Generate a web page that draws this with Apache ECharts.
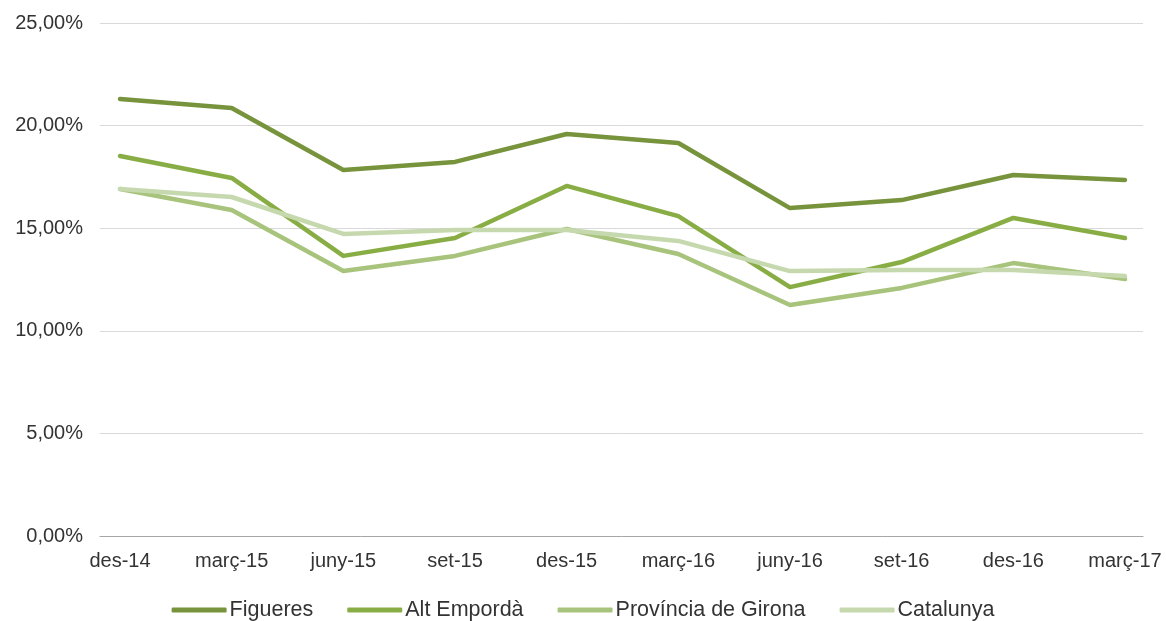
<!DOCTYPE html>
<html>
<head>
<meta charset="utf-8">
<script src="https://cdn.jsdelivr.net/npm/echarts@6/dist/echarts.min.js"></script>
<style>
  html, body { margin: 0; padding: 0; background: #fff; }
  #chart { width: 1166px; height: 621px; }
</style>
</head>
<body>
<div id="chart"></div>
<script>
const categories = ['des-14', 'març-15', 'juny-15', 'set-15', 'des-15', 'març-16', 'juny-16', 'set-16', 'des-16', 'març-17']
const figueres = [21.3, 20.86, 17.84, 18.23, 19.59, 19.15, 15.98, 16.37, 17.59, 17.35]
const altEmporda = [18.52, 17.45, 13.65, 14.52, 17.06, 15.59, 12.13, 13.35, 15.5, 14.52]
const provinciaGirona = [16.91, 15.89, 12.91, 13.65, 14.96, 13.74, 11.26, 12.09, 13.3, 12.52]
const catalunya = [16.91, 16.52, 14.72, 14.91, 14.91, 14.38, 12.91, 12.96, 12.96, 12.67]

const seriesNames = ['Figueres', 'Alt Empordà', 'Província de Girona', 'Catalunya']
const seriesData = [figueres, altEmporda, provinciaGirona, catalunya]
const colors = ['#77933c', '#89ad45', '#a8c47c', '#c6d9ae']

const font = 'Liberation Sans, Arial, sans-serif'
const textColor = '#333333'
const fmt = v => v.toFixed(2).replace('.', ',') + '%'

const chart = echarts.init(document.getElementById('chart'))

const option = {
  animation: false,
  color: colors,
  textStyle: { fontFamily: font },
  // outer grid carries the gridlines, inner grid carries the lines
  grid: [
    { left: 100, right: 23, top: 23, bottom: 85 },
    { left: 120, right: 41, top: 23, bottom: 85 }
  ],
  legend: {
    top: 594,
    left: 'center',
    itemWidth: 55,
    itemHeight: 5,
    itemGap: 34,
    icon: 'roundRect',
    textStyle: { fontSize: 21.5, color: textColor, fontFamily: font, padding: [0, 0, 0, -2] },
    data: seriesNames
  },
  xAxis: [
    {
      gridIndex: 0,
      type: 'value',
      min: 0,
      max: 1,
      axisLine: { show: true, lineStyle: { color: '#a6a6a6', width: 1 } },
      axisTick: { show: false },
      axisLabel: { show: false },
      splitLine: { show: false }
    },
    {
      gridIndex: 1,
      type: 'category',
      boundaryGap: false,
      data: categories,
      axisLine: { show: false },
      axisTick: { show: false },
      axisLabel: { fontSize: 20, color: textColor, margin: 15, interval: 0, fontFamily: font },
      splitLine: { show: false }
    }
  ],
  yAxis: [
    {
      gridIndex: 0,
      type: 'value',
      min: 0,
      max: 25,
      interval: 5,
      axisLine: { show: false },
      axisTick: { show: false },
      axisLabel: { fontSize: 20, color: textColor, margin: 17, formatter: fmt, fontFamily: font },
      splitLine: { lineStyle: { color: '#d9d9d9', width: 1 } }
    },
    {
      gridIndex: 1,
      type: 'value',
      min: 0,
      max: 25,
      interval: 5,
      axisLine: { show: false },
      axisTick: { show: false },
      axisLabel: { show: false },
      splitLine: { show: false }
    }
  ],
  series: seriesNames.map((name, i) => ({
    name: name,
    type: 'line',
    xAxisIndex: 1,
    yAxisIndex: 1,
    data: seriesData[i],
    showSymbol: false,
    symbol: 'none',
    lineStyle: { width: 4.5, color: colors[i], cap: 'round', join: 'round' },
    itemStyle: { color: colors[i] }
  }))
}

chart.setOption(option)
</script>
</body>
</html>
